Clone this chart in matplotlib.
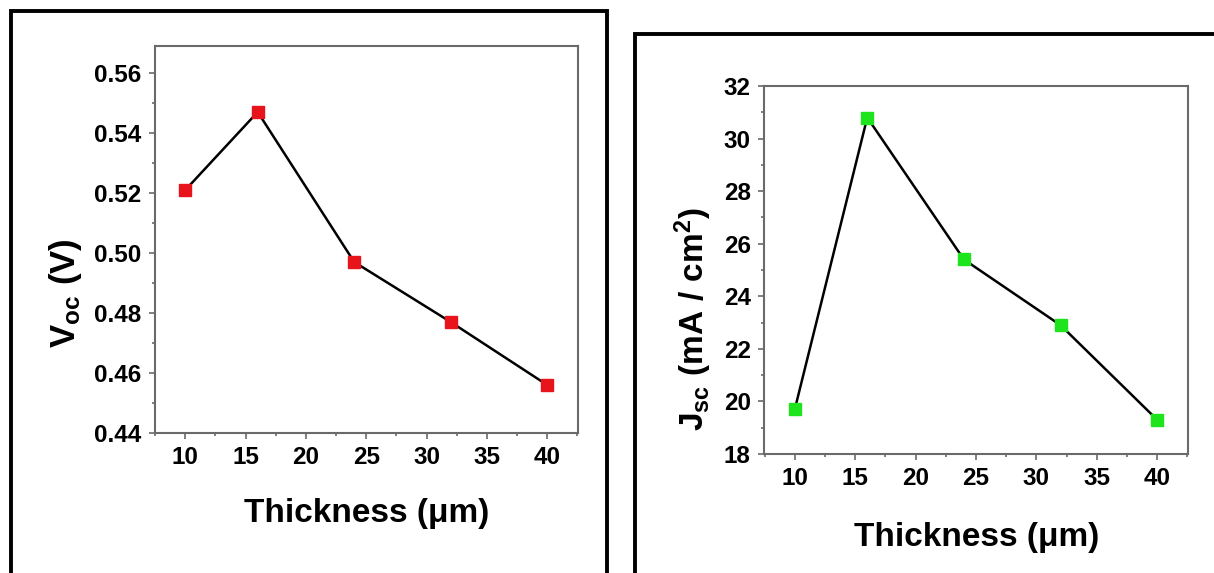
import matplotlib
matplotlib.use('Agg')
import matplotlib.pyplot as plt
from matplotlib.patches import Rectangle
from matplotlib.ticker import MultipleLocator

# Data
thickness = [10, 16, 24, 32, 40]
voc = [0.521, 0.547, 0.497, 0.477, 0.456]
jsc = [19.7, 30.8, 25.4, 22.9, 19.3]

voc_ticks = [0.44, 0.46, 0.48, 0.50, 0.52, 0.54, 0.56]
jsc_ticks = [18, 20, 22, 24, 26, 28, 30, 32]
x_ticks = [10, 15, 20, 25, 30, 35, 40]

plt.rcParams['font.family'] = ['Liberation Sans', 'DejaVu Sans']
plt.rcParams['mathtext.fontset'] = 'custom'
plt.rcParams['mathtext.rm'] = 'Liberation Sans:bold'
plt.rcParams['mathtext.bf'] = 'Liberation Sans:bold'
plt.rcParams['mathtext.it'] = 'Liberation Sans:bold'

spine_color = '#6a6a6a'
tick_font = dict(fontsize=17.5, fontweight='bold')
fig = plt.figure(figsize=(12.14, 5.73), dpi=100)

# Black frames around each panel (both run off the bottom / right edge)
fig.add_artist(Rectangle((10.5 / 1214, -0.05), (607 - 10.5) / 1214, 1.05 - 11.5 / 573,
                         transform=fig.transFigure, fill=False, lw=2.8, ec='black'))
fig.add_artist(Rectangle((634.5 / 1214, -0.05), 0.5, 1.05 - 34.5 / 573,
                         transform=fig.transFigure, fill=False, lw=2.8, ec='black'))


def style_axes(ax):
    for sp in ax.spines.values():
        sp.set_color(spine_color)
        sp.set_linewidth(1.5)
    ax.tick_params(which='both', direction='out', color=spine_color, width=1.2,
                   pad=5, top=False, right=False)
    ax.tick_params(which='major', length=4.5)
    ax.tick_params(which='minor', length=2.5)


# Left panel: Voc
ax1 = fig.add_axes([0.1273, 0.2443, 0.3488, 0.6754])
ax1.plot(thickness, voc, color='black', lw=1.8, marker='s', ms=8,
         mfc='#e8141c', mec='#e8141c')
ax1.set_xlim(7.45, 42.55)
ax1.set_ylim(0.44, 0.569)
ax1.set_xticks(x_ticks, labels=[str(v) for v in x_ticks], **tick_font)
ax1.set_yticks(voc_ticks, labels=[f'{v:.2f}' for v in voc_ticks], **tick_font)
ax1.xaxis.set_minor_locator(MultipleLocator(2.5))
ax1.yaxis.set_minor_locator(MultipleLocator(0.01))
style_axes(ax1)
ax1.set_xlabel('Thickness (μm)', fontsize=24, fontweight='bold', va='center')
ax1.xaxis.set_label_coords(0.502, -0.207)
ax1.set_ylabel(r'$\mathbf{V_{oc}\ (V)}$', fontsize=25, va='center')
ax1.yaxis.set_label_coords(-0.211, 0.362)

# Right panel: Jsc
ax2 = fig.add_axes([0.6293, 0.2077, 0.3493, 0.6422])
ax2.plot(thickness, jsc, color='black', lw=1.8, marker='s', ms=8,
         mfc='#1ee41e', mec='#1ee41e')
ax2.set_xlim(7.45, 42.55)
ax2.set_ylim(18, 32)
ax2.set_xticks(x_ticks, labels=[str(v) for v in x_ticks], **tick_font)
ax2.set_yticks(jsc_ticks, labels=[str(v) for v in jsc_ticks], **tick_font)
ax2.xaxis.set_minor_locator(MultipleLocator(2.5))
ax2.yaxis.set_minor_locator(MultipleLocator(1))
style_axes(ax2)
ax2.set_xlabel('Thickness (μm)', fontsize=24, fontweight='bold', va='center')
ax2.xaxis.set_label_coords(0.502, -0.226)
ax2.set_ylabel(r'$\mathbf{J_{sc}\ (mA\ /\ cm^{2})}$', fontsize=24, va='center')
ax2.yaxis.set_label_coords(-0.167, 0.367)

fig.savefig('out.png', dpi=100)
